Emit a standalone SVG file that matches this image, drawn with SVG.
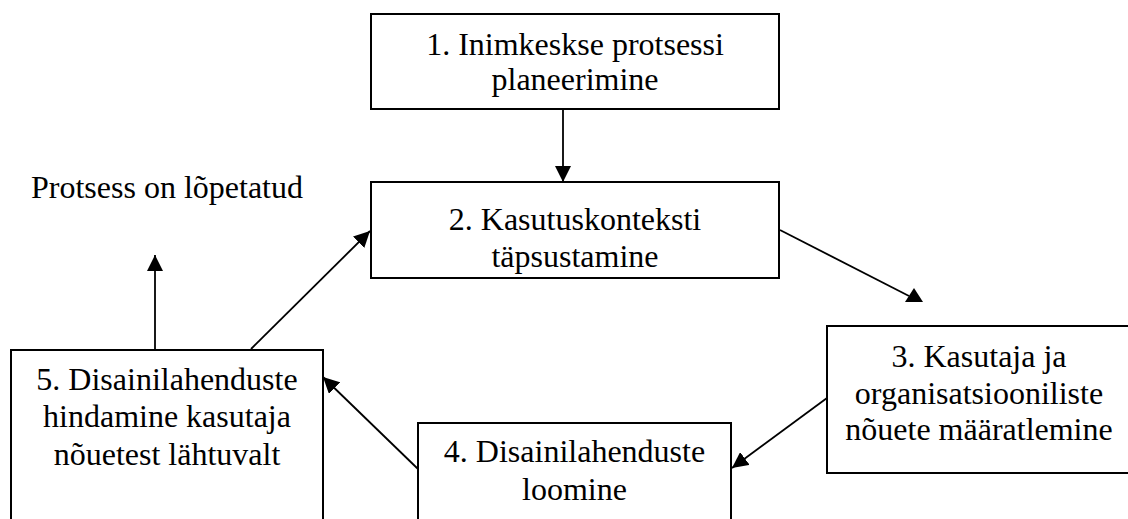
<svg xmlns="http://www.w3.org/2000/svg" width="1128" height="519" viewBox="0 0 1128 519">
  <style>
    .box { fill: #ffffff; stroke: #000000; stroke-width: 2; }
    .t { font-family: "Liberation Serif", "Times New Roman", serif; font-size: 32px; fill: #000000; text-anchor: middle; }
    .c { stroke: #000000; stroke-width: 1.8; fill: none; }
    .head { fill: #000000; stroke: none; }
  </style>
  <defs>
    <marker id="arr" viewBox="0 0 16 16" refX="16" refY="8" markerWidth="16" markerHeight="16" markerUnits="userSpaceOnUse" orient="auto">
      <path d="M0,0 L16,8 L0,16 z" fill="#000000"/>
    </marker>
  </defs>
  <rect width="1128" height="519" fill="#ffffff"/>

  <g id="node1">
    <rect class="box" x="371" y="14" width="408" height="95"/>
    <text class="t" x="575" y="55">1. Inimkeskse protsessi</text>
    <text class="t" x="575" y="90">planeerimine</text>
  </g>
  <g id="node2">
    <rect class="box" x="371" y="182" width="408" height="96"/>
    <text class="t" x="575" y="230">2. Kasutuskonteksti</text>
    <text class="t" x="575" y="267">täpsustamine</text>
  </g>
  <g id="node3">
    <rect class="box" x="827" y="326" width="320" height="147"/>
    <text class="t" x="979" y="367">3. Kasutaja ja</text>
    <text class="t" x="979" y="404">organisatsiooniliste</text>
    <text class="t" x="979" y="440">nõuete määratlemine</text>
  </g>
  <g id="node4">
    <rect class="box" x="418" y="423" width="313" height="120"/>
    <text class="t" x="574.5" y="462">4. Disainilahenduste</text>
    <text class="t" x="574.5" y="500">loomine</text>
  </g>
  <g id="node5">
    <rect class="box" x="11" y="350" width="312" height="190"/>
    <text class="t" x="167" y="390">5. Disainilahenduste</text>
    <text class="t" x="167" y="427">hindamine kasutaja</text>
    <text class="t" x="167" y="465">nõuetest lähtuvalt</text>
  </g>
  <g id="end">
    <text class="t" x="31" y="198" style="text-anchor:start">Protsess on lõpetatud</text>
  </g>

  <g id="connectors">
    <line class="c" x1="563" y1="110" x2="563" y2="182" marker-end="url(#arr)"/>
    <line class="c" x1="155" y1="349" x2="155" y2="255" marker-end="url(#arr)"/>
    <line class="c" x1="251" y1="349" x2="370" y2="231" marker-end="url(#arr)"/>
    <line class="c" x1="780" y1="230" x2="909" y2="296"/>
    <polygon class="head" points="905,302 923,302 914,288"/>
    <line class="c" x1="827" y1="398" x2="732" y2="468" marker-end="url(#arr)"/>
    <line class="c" x1="418" y1="469" x2="323" y2="377" marker-end="url(#arr)"/>
  </g>
</svg>
